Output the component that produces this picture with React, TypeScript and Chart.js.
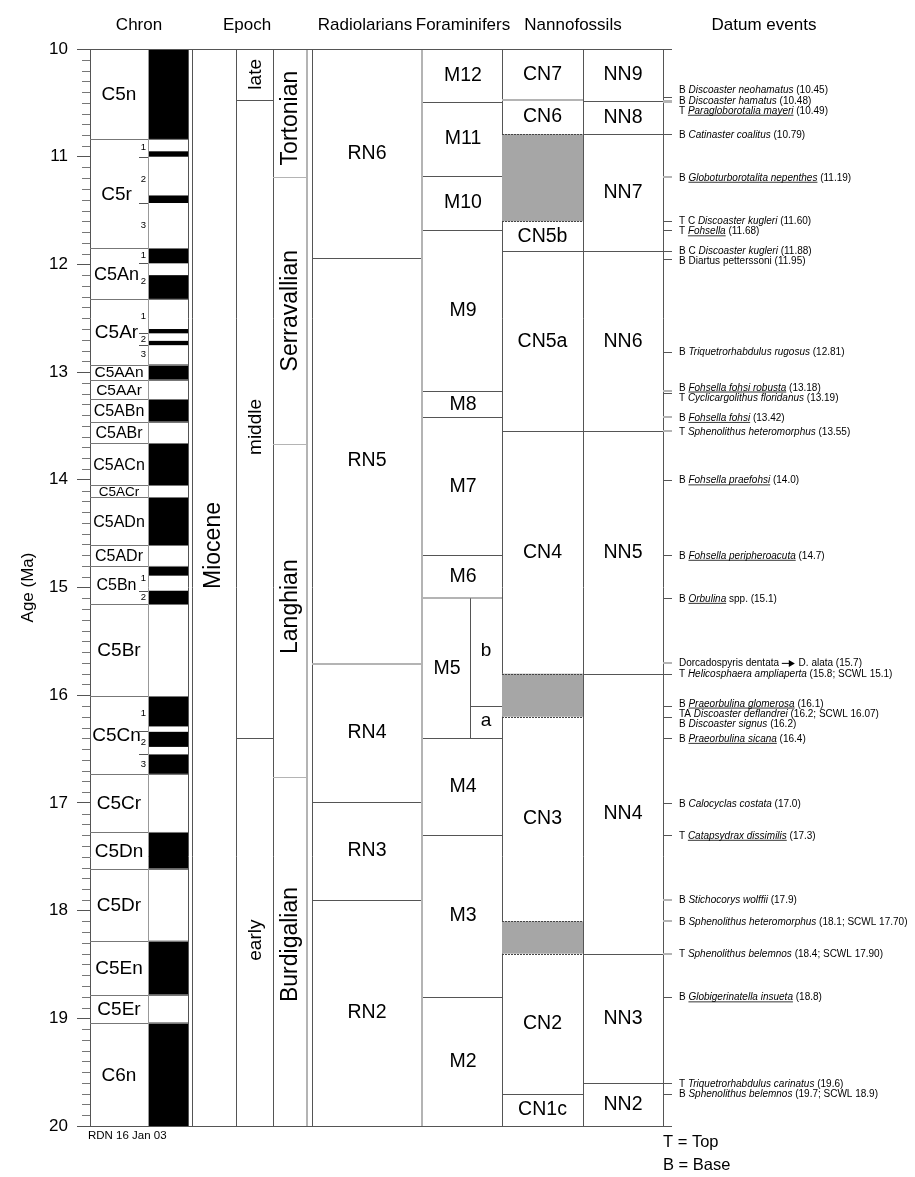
import React, { useEffect, useRef } from "react";
import { Chart, registerables } from "chart.js";

Chart.register(...registerables);

// ---------------- DATA ----------------
const AGE_TOP = 10;
const AGE_BASE = 20;
const MAJOR_STEP = 1;
const MINOR_STEP = 0.1;
const axisTitle = "Age (Ma)";

const headerLabels = ["Chron", "Epoch", "Radiolarians", "Foraminifers", "Nannofossils", "Datum events"];

// Chrons (ages in Ma)
const chronNames = ["C5n", "C5r", "C5An", "C5Ar", "C5AAn", "C5AAr", "C5ABn", "C5ABr", "C5ACn", "C5ACr", "C5ADn", "C5ADr", "C5Bn", "C5Br", "C5Cn", "C5Cr", "C5Dn", "C5Dr", "C5En", "C5Er", "C6n"];
const chronTops = [10.0, 10.835, 11.85, 12.32, 12.93, 13.07, 13.25, 13.46, 13.66, 14.05, 14.16, 14.61, 14.8, 15.155, 16.01, 16.73, 17.27, 17.61, 18.28, 18.78, 19.04];
const chronBases = [10.835, 11.85, 12.32, 12.93, 13.07, 13.25, 13.46, 13.66, 14.05, 14.16, 14.61, 14.8, 15.155, 16.01, 16.73, 17.27, 17.61, 18.28, 18.78, 19.04, 20.0];

// Normal polarity intervals (black)
const normalTops = [10.0, 10.95, 11.36, 11.85, 12.1, 12.6, 12.71, 12.93, 13.25, 13.66, 14.16, 14.8, 15.03, 16.01, 16.34, 16.55, 17.27, 18.28, 19.04];
const normalBases = [10.835, 11.0, 11.43, 11.99, 12.32, 12.64, 12.75, 13.07, 13.46, 14.05, 14.61, 14.89, 15.155, 16.29, 16.48, 16.73, 17.61, 18.78, 20.0];

// Subchron partitions
const subchronChrons = ["C5r", "C5An", "C5Ar", "C5Bn", "C5Cn"];
const subchronBreaks = [[11.0, 11.43], [11.99], [12.64, 12.75], [15.035], [16.33, 16.55]];

// Epochs / stages
const epochNames = ["Miocene"];
const epochBounds = [10, 20];
const subEpochNames = ["late", "middle", "early"];
const subEpochBounds = [10, 10.47, 16.4, 20];
const stageNames = ["Tortonian", "Serravallian", "Langhian", "Burdigalian"];
const stageBounds = [10, 11.19, 13.67, 16.76, 20];

// Radiolarian zones
const radNames = ["RN6", "RN5", "RN4", "RN3", "RN2"];
const radBounds = [10, 11.94, 15.71, 16.99, 17.9, 20];

// Foraminifer zones
const foramNames = ["M12", "M11", "M10", "M9", "M8", "M7", "M6", "M5", "M4", "M3", "M2"];
const foramBounds = [10, 10.49, 11.18, 11.68, 13.18, 13.42, 14.7, 15.1, 16.4, 17.3, 18.8, 20];
const foramSubNames = ["b", "a"];
const foramSubBounds = [15.1, 16.1, 16.4];

// Nannofossil zones ("" = unzoned interval, shaded)
const cnNames = ["CN7", "CN6", "", "CN5b", "CN5a", "CN4", "", "CN3", "", "CN2", "CN1c"];
const cnBounds = [10, 10.47, 10.79, 11.6, 11.88, 13.55, 15.8, 16.2, 18.1, 18.4, 19.7, 20];
const nnNames = ["NN9", "NN8", "NN7", "NN6", "NN5", "NN4", "NN3", "NN2"];
const nnBounds = [10, 10.48, 10.79, 11.88, 13.55, 15.8, 18.4, 19.6, 20];

// Datum events (*italic*, _italic underlined_, ~ arrow)
const datumAges = [10.45, 10.48, 10.49, 10.79, 11.19, 11.6, 11.68, 11.88, 11.95, 12.81, 13.18, 13.19, 13.42, 13.55, 14.0, 14.7, 15.1, 15.7, 15.8, 16.1, 16.2, 16.2, 16.4, 17.0, 17.3, 17.9, 18.1, 18.4, 18.8, 19.6, 19.7];
const datumLabels = [
  "B *Discoaster neohamatus* (10.45)",
  "B *Discoaster hamatus* (10.48)",
  "T _Paragloborotalia mayeri_ (10.49)",
  "B *Catinaster coalitus* (10.79)",
  "B _Globoturborotalita nepenthes_ (11.19)",
  "T C *Discoaster kugleri* (11.60)",
  "T _Fohsella_ (11.68)",
  "B C *Discoaster kugleri* (11.88)",
  "B Diartus petterssoni (11.95)",
  "B *Triquetrorhabdulus rugosus* (12.81)",
  "B _Fohsella fohsi robusta_ (13.18)",
  "T *Cyclicargolithus floridanus* (13.19)",
  "B _Fohsella fohsi_ (13.42)",
  "T *Sphenolithus heteromorphus* (13.55)",
  "B _Fohsella praefohsi_ (14.0)",
  "B _Fohsella peripheroacuta_ (14.7)",
  "B _Orbulina_ spp. (15.1)",
  "Dorcadospyris dentata ~ D. alata (15.7)",
  "T *Helicosphaera ampliaperta* (15.8; SCWL 15.1)",
  "B _Praeorbulina glomerosa_ (16.1)",
  "TA *Discoaster deflandrei* (16.2; SCWL 16.07)",
  "B *Discoaster signus* (16.2)",
  "B _Praeorbulina sicana_ (16.4)",
  "B *Calocyclas costata* (17.0)",
  "T _Catapsydrax dissimilis_ (17.3)",
  "B *Stichocorys wolffii* (17.9)",
  "B *Sphenolithus heteromorphus* (18.1; SCWL 17.70)",
  "T *Sphenolithus belemnos* (18.4; SCWL 17.90)",
  "B _Globigerinatella insueta_ (18.8)",
  "T *Triquetrorhabdulus carinatus* (19.6)",
  "B *Sphenolithus belemnos* (19.7; SCWL 18.9)",
];

const creditText = "RDN 16 Jan 03";
const legendLines = ["T = Top", "B = Base"];

// ---------------- LAYOUT / STYLE ----------------
const FONT = '"Liberation Sans", Arial, Helvetica, sans-serif';
const W = 915;
const H = 1177;
const COL = {
  chronL: 90, chronM: 148, chronR: 188,
  epochL: 192, epochR: 236, subR: 273, stageR: 307,
  radL: 312, radR: 422, forSplit: 470, forR: 502, cnR: 583, nnR: 663,
  tickEnd: 672, textX: 679,
};
const headerX = [139, 247, 365, 463, 573, 764];
const epochLabelShift = -42; // px, Miocene label sits above column centre
const subEpochLabelShift = [0, 8, 8];
const stageLabelShift = [5, 0, -4, -7];
const chronFontSizes = [19, 19, 18, 19, 15.5, 15.5, 16, 16, 16, 13.5, 16, 16, 16, 19, 19, 19, 19, 19, 19, 19, 19];
const grayTickAges = [10.48, 10.49, 11.19, 13.18, 13.42, 13.55, 15.7, 17.9, 18.1, 18.4];
const DARK = "#555";
const LIGHT = "#b4b4b4";
const SHADE = "#a6a6a6";

function spreadLabels(ys: number[], gap: number): number[] {
  type Cl = { d: number[]; start: number };
  let cls: Cl[] = ys.map((y) => ({ d: [y], start: y }));
  let merged = true;
  while (merged) {
    merged = false;
    for (let i = 0; i < cls.length - 1; i++) {
      const a = cls[i], b = cls[i + 1];
      if (a.start + a.d.length * gap > b.start + 0.01) {
        const d = a.d.concat(b.d);
        let s = 0;
        d.forEach((v, k) => (s += v - k * gap));
        cls.splice(i, 2, { d, start: s / d.length });
        merged = true;
        break;
      }
    }
  }
  const out: number[] = [];
  cls.forEach((c) => c.d.forEach((_, k) => out.push(c.start + k * gap)));
  return out;
}

const drawPlugin = {
  id: "stratDraw",
  afterDraw(chart: any) {
    const ctx: CanvasRenderingContext2D = chart.ctx;
    const xs = chart.scales.x;
    const ys = chart.scales.y;
    const X = (v: number) => xs.getPixelForValue(v);
    const Y = (v: number) => ys.getPixelForValue(v);
    const crisp = (p: number) => Math.round(p) + 0.5;

    const hline = (x1: number, x2: number, age: number, color = DARK, lw = 1, dash: number[] = []) => {
      ctx.save();
      ctx.strokeStyle = color;
      ctx.lineWidth = lw;
      ctx.setLineDash(dash);
      ctx.beginPath();
      const y = lw === 1 ? crisp(Y(age)) : Math.round(Y(age));
      ctx.moveTo(X(x1), y);
      ctx.lineTo(X(x2), y);
      ctx.stroke();
      ctx.restore();
    };
    const vline = (x: number, a1: number, a2: number, color = DARK, lw = 1) => {
      ctx.save();
      ctx.strokeStyle = color;
      ctx.lineWidth = lw;
      ctx.beginPath();
      const px = lw === 1 ? crisp(X(x)) : Math.round(X(x));
      ctx.moveTo(px, Y(a1));
      ctx.lineTo(px, Y(a2));
      ctx.stroke();
      ctx.restore();
    };
    const text = (t: string, x: number, y: number, size: number, align: CanvasTextAlign = "center", rotate = false) => {
      ctx.save();
      ctx.fillStyle = "#000";
      ctx.font = `${size}px ${FONT}`;
      ctx.textAlign = align;
      ctx.textBaseline = "middle";
      if (rotate) {
        ctx.translate(x, y);
        ctx.rotate(-Math.PI / 2);
        ctx.fillText(t, 0, 0);
      } else {
        ctx.fillText(t, x, y);
      }
      ctx.restore();
    };

    // ---- Chron column ----
    ctx.fillStyle = "#000";
    normalTops.forEach((t, i) => {
      const y1 = Y(t), y2 = Y(normalBases[i]);
      ctx.fillRect(X(COL.chronM), y1, X(COL.chronR) - X(COL.chronM), y2 - y1);
    });
    chronTops.forEach((t, i) => {
      if (i > 0) hline(COL.chronL, COL.chronR, t, "#777");
    });
    vline(COL.chronM, AGE_TOP, AGE_BASE, "#999");
    vline(COL.chronR, AGE_TOP, AGE_BASE, DARK);
    chronNames.forEach((n, i) => {
      const sub = subchronChrons.indexOf(n) >= 0;
      const cx = sub ? (X(COL.chronL) + X(COL.chronM)) / 2 - 2.5 : (X(COL.chronL) + X(COL.chronM)) / 2;
      text(n, cx, (Y(chronTops[i]) + Y(chronBases[i])) / 2 + 1, chronFontSizes[i]);
    });
    subchronChrons.forEach((n, i) => {
      const ci = chronNames.indexOf(n);
      const b = [chronTops[ci], ...subchronBreaks[i], chronBases[ci]];
      for (let k = 0; k < b.length - 1; k++) {
        text(String(k + 1), X(COL.chronM) - 4.5, (Y(b[k]) + Y(b[k + 1])) / 2, 9.5);
      }
      subchronBreaks[i].forEach((a) => hline(COL.chronM - 9, COL.chronM, a, DARK));
    });

    // ---- Epoch columns ----
    vline(COL.epochL, AGE_TOP, AGE_BASE);
    vline(COL.epochR, AGE_TOP, AGE_BASE);
    vline(COL.subR, AGE_TOP, AGE_BASE);
    vline(COL.stageR, AGE_TOP, AGE_BASE, LIGHT, 2);
    vline(COL.radL, AGE_TOP, AGE_BASE);
    epochNames.forEach((n, i) => {
      text(n, (X(COL.epochL) + X(COL.epochR)) / 2, (Y(epochBounds[i]) + Y(epochBounds[i + 1])) / 2 + epochLabelShift, 23, "center", true);
    });
    subEpochNames.forEach((n, i) => {
      if (i > 0) hline(COL.epochR, COL.subR, subEpochBounds[i]);
      text(n, (X(COL.epochR) + X(COL.subR)) / 2 + 1, (Y(subEpochBounds[i]) + Y(subEpochBounds[i + 1])) / 2 + subEpochLabelShift[i], 19, "center", true);
    });
    stageNames.forEach((n, i) => {
      if (i > 0) hline(COL.subR, COL.stageR, stageBounds[i], LIGHT);
      text(n, (X(COL.subR) + X(COL.stageR)) / 2 + 1, (Y(stageBounds[i]) + Y(stageBounds[i + 1])) / 2 + stageLabelShift[i], 23, "center", true);
    });

    // ---- Radiolarians ----
    radNames.forEach((n, i) => {
      if (i > 0) hline(COL.radL, COL.radR, radBounds[i], radBounds[i] === 15.71 ? LIGHT : DARK, radBounds[i] === 15.71 ? 2 : 1);
      text(n, (X(COL.radL) + X(COL.radR)) / 2, (Y(radBounds[i]) + Y(radBounds[i + 1])) / 2, 19.5);
    });
    vline(COL.radR, AGE_TOP, AGE_BASE, LIGHT, 2);

    // ---- Foraminifers ----
    foramNames.forEach((n, i) => {
      if (i > 0) hline(COL.radR + 1, COL.forR, foramBounds[i], foramBounds[i] === 15.1 ? LIGHT : DARK, foramBounds[i] === 15.1 ? 2 : 1);
      const hasSub = foramBounds[i] === foramSubBounds[0];
      const right = hasSub ? COL.forSplit : COL.forR;
      text(n, (X(COL.radR) + X(right)) / 2 + 1, (Y(foramBounds[i]) + Y(foramBounds[i + 1])) / 2, 19.5);
    });
    vline(COL.forSplit, foramSubBounds[0], foramSubBounds[foramSubBounds.length - 1]);
    foramSubNames.forEach((n, i) => {
      if (i > 0) hline(COL.forSplit, COL.forR, foramSubBounds[i]);
      text(n, (X(COL.forSplit) + X(COL.forR)) / 2, (Y(foramSubBounds[i]) + Y(foramSubBounds[i + 1])) / 2 - 1, 19);
    });
    vline(COL.forR, AGE_TOP, AGE_BASE);

    // ---- Nannofossils CN ----
    cnNames.forEach((n, i) => {
      const t = cnBounds[i], b = cnBounds[i + 1];
      if (n === "") {
        ctx.fillStyle = SHADE;
        ctx.fillRect(X(COL.forR), Y(t), X(COL.cnR) - X(COL.forR), Y(b) - Y(t));
        hline(COL.forR, COL.cnR, t, "#444", 1, [2, 1]);
        hline(COL.forR, COL.cnR, b, "#444", 1, [2, 1]);
      } else {
        if (i > 0 && cnNames[i - 1] !== "") hline(COL.forR, COL.cnR, t, t === 10.47 ? LIGHT : DARK, t === 10.47 ? 2 : 1);
        text(n, (X(COL.forR) + X(COL.cnR)) / 2, (Y(t) + Y(b)) / 2, 19.5);
      }
    });
    vline(COL.cnR, AGE_TOP, AGE_BASE);

    // ---- Nannofossils NN ----
    nnNames.forEach((n, i) => {
      if (i > 0) hline(COL.cnR, COL.nnR, nnBounds[i]);
      text(n, (X(COL.cnR) + X(COL.nnR)) / 2, (Y(nnBounds[i]) + Y(nnBounds[i + 1])) / 2, 19.5);
    });
    vline(COL.nnR, AGE_TOP, AGE_BASE);

    // ---- frame top/bottom ----
    hline(COL.chronL, COL.tickEnd, AGE_TOP, DARK);
    hline(COL.chronL, COL.tickEnd, AGE_BASE, DARK);

    // ---- minor ticks ----
    ctx.save();
    ctx.strokeStyle = "#777";
    ctx.lineWidth = 1;
    const nMinor = Math.round((AGE_BASE - AGE_TOP) / MINOR_STEP);
    for (let k = 1; k < nMinor; k++) {
      const v = AGE_TOP + k * MINOR_STEP;
      if (k % Math.round(MAJOR_STEP / MINOR_STEP) === 0) continue;
      const y = crisp(Y(v));
      ctx.beginPath();
      ctx.moveTo(X(COL.chronL) - 8, y);
      ctx.lineTo(X(COL.chronL), y);
      ctx.stroke();
    }
    ctx.restore();

    // ---- datum events ----
    const desired = datumAges.map((a) => Y(a));
    const placed = spreadLabels(desired, 10.2);
    datumAges.forEach((a) => {
      const gray = grayTickAges.indexOf(a) >= 0;
      hline(COL.nnR, COL.tickEnd, a, gray ? LIGHT : DARK, gray ? 2 : 1);
    });
    const drawRich = (s: string, x: number, yc: number, size: number) => {
      const parts = s.split(/(\*[^*]+\*|_[^_]+_|~)/).filter((p) => p.length > 0);
      let cx = x;
      const yb = yc + size * 0.36;
      ctx.save();
      ctx.fillStyle = "#000";
      ctx.strokeStyle = "#000";
      ctx.textAlign = "left";
      ctx.textBaseline = "alphabetic";
      for (const p of parts) {
        if (p === "~") {
          ctx.lineWidth = 1;
          ctx.beginPath();
          ctx.moveTo(cx, yc + 0.5);
          ctx.lineTo(cx + 8, yc + 0.5);
          ctx.stroke();
          ctx.beginPath();
          ctx.moveTo(cx + 7, yc - 3);
          ctx.lineTo(cx + 13, yc + 0.5);
          ctx.lineTo(cx + 7, yc + 4);
          ctx.closePath();
          ctx.fill();
          cx += 14;
          continue;
        }
        let t = p, italic = false, under = false;
        if (p[0] === "*") { italic = true; t = p.slice(1, -1); }
        else if (p[0] === "_") { italic = true; under = true; t = p.slice(1, -1); }
        ctx.font = `${italic ? "italic " : ""}${size}px ${FONT}`;
        ctx.fillText(t, cx, yb);
        const w = ctx.measureText(t).width;
        if (under) {
          ctx.lineWidth = 0.8;
          ctx.beginPath();
          ctx.moveTo(cx, yb + 1.5);
          ctx.lineTo(cx + w, yb + 1.5);
          ctx.stroke();
        }
        cx += w;
      }
      ctx.restore();
    };
    datumLabels.forEach((l, i) => drawRich(l, X(COL.textX), placed[i], 10));

    // ---- headers & notes ----
    headerLabels.forEach((h, i) => text(h, X(headerX[i]), 25, 17));
    text(creditText, X(COL.chronL) - 2, Y(AGE_BASE) + 10, 11.5, "left");
    legendLines.forEach((l, i) => text(l, X(COL.nnR), Y(AGE_BASE) + 16 + i * 23, 16.5, "left"));
  },
};

export default function App() {
  const ref = useRef<HTMLCanvasElement | null>(null);
  useEffect(() => {
    if (!ref.current) return;
    const chart = new Chart(ref.current, {
      type: "scatter",
      data: { datasets: [{ data: [], showLine: false }] },
      options: {
        animation: false,
        responsive: true,
        maintainAspectRatio: false,
        layout: { padding: { left: 14, right: W - COL.nnR, top: 49, bottom: 51 } },
        plugins: { legend: { display: false }, tooltip: { enabled: false } },
        scales: {
          x: { type: "linear", min: COL.chronL, max: COL.nnR, display: false },
          y: {
            type: "linear",
            reverse: true,
            min: AGE_TOP,
            max: AGE_BASE,
            afterFit: (s: any) => { s.width = 76; },
            ticks: { stepSize: MAJOR_STEP, color: "#000", padding: 9, font: { size: 17, family: FONT } },
            grid: { drawOnChartArea: false, tickLength: 13, color: DARK },
            border: { display: true, color: DARK },
            title: { display: true, text: axisTitle, color: "#000", font: { size: 17, family: FONT }, padding: { top: 4, bottom: 4 } },
          },
        },
      },
      plugins: [drawPlugin],
    });
    return () => chart.destroy();
  }, []);
  return (
    <div style={{ position: "fixed", left: 0, top: 0, width: W, height: H, background: "#fff" }}>
      <canvas ref={ref} />
    </div>
  );
}
